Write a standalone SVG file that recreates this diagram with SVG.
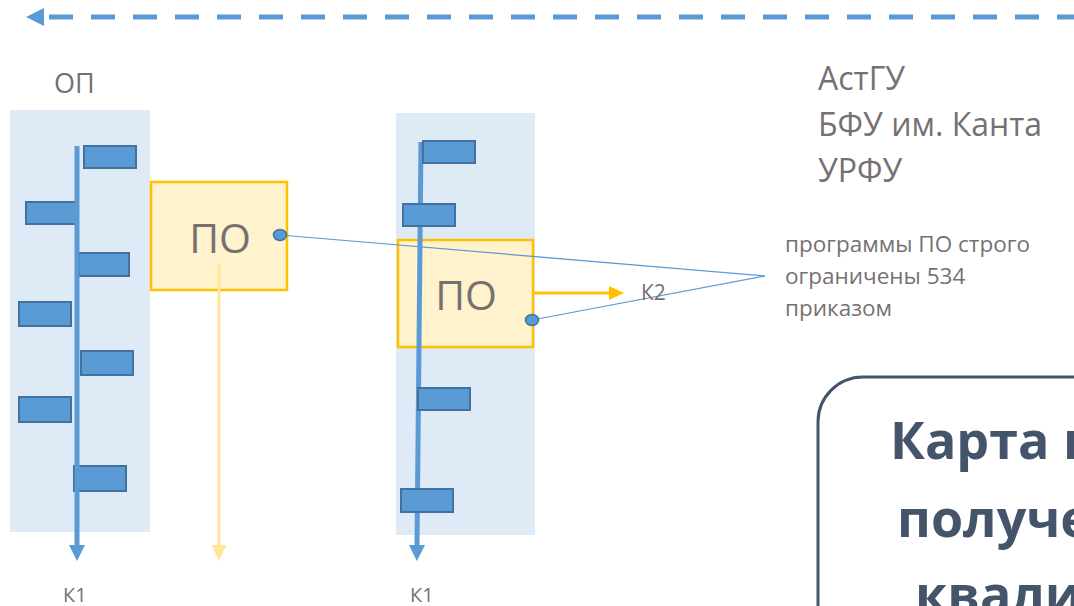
<svg xmlns="http://www.w3.org/2000/svg" width="1074" height="606" viewBox="0 0 1074 606">
<defs>
<style>
.panel{fill:#deeaf6}
.bar{fill:#5b9bd5;stroke:#41719c;stroke-width:2}
.po{fill:#fff2cc;stroke:#ffc000;stroke-width:2.5}
.vline{stroke:#5b9bd5;stroke-width:5;fill:none}
.lbl{font-family:"Open Sans","Noto Sans",sans-serif;fill:#767171}
.callout{stroke:#5b9bd5;stroke-width:1.2;fill:none}
.dot{fill:#5b9bd5;stroke:#41719c;stroke-width:1.5}
.big{font-family:"Open Sans","Noto Sans",sans-serif;font-weight:bold;font-size:52px;fill:#44546a}
</style>
<marker id="mBlue" markerUnits="userSpaceOnUse" markerWidth="16" markerHeight="16" refX="0" refY="8" orient="auto" viewBox="0 0 16 16"><path d="M0,0 L16,8 L0,16 z" fill="#5b9bd5"/></marker>
<marker id="mYelLight" markerUnits="userSpaceOnUse" markerWidth="16" markerHeight="16" refX="0" refY="8" orient="auto" viewBox="0 0 16 16"><path d="M0,0.5 L16,8 L0,15.5 z" fill="#ffe699"/></marker>
<marker id="mYel" markerUnits="userSpaceOnUse" markerWidth="15" markerHeight="14" refX="0" refY="7" orient="auto" viewBox="0 0 15 14"><path d="M0,0 L15,7 L0,14 z" fill="#ffc000"/></marker>
<marker id="mDash" markerUnits="userSpaceOnUse" markerWidth="18" markerHeight="18" refX="0" refY="9" orient="auto" viewBox="0 0 18 18"><path d="M0,0 L18,9 L0,18 z" fill="#5b9bd5"/></marker>
</defs>
<rect width="1074" height="606" fill="#ffffff"/>

<g id="top-arrow">
<line x1="1081" y1="17" x2="44" y2="17" stroke="#5b9bd5" stroke-width="5" stroke-dasharray="24 18" marker-end="url(#mDash)"/>
</g>

<g id="label-op"><text class="lbl" x="54" y="93" font-size="27">ОП</text></g>

<g id="panel-left">
<rect class="panel" x="10" y="110" width="140" height="422"/>
<rect class="bar" x="84" y="146" width="52" height="22"/>
<rect class="bar" x="26" y="202" width="51" height="22"/>
<rect class="bar" x="79" y="253" width="50" height="23"/>
<rect class="bar" x="19" y="302" width="52" height="24"/>
<rect class="bar" x="81" y="351" width="52" height="24"/>
<rect class="bar" x="19" y="397" width="52" height="25"/>
<rect class="bar" x="74" y="466" width="52" height="25"/>
</g>

<g id="panel-center">
<rect class="panel" x="396" y="113" width="139" height="422"/>
</g>

<g id="po-left">
<rect class="po" x="151" y="182" width="136" height="108"/>
<text class="lbl" x="220" y="253" font-size="41" text-anchor="middle">ПО</text>
</g>

<g id="po-center">
<rect class="po" x="398" y="240" width="135" height="107"/>
<text class="lbl" x="466" y="310" font-size="41" text-anchor="middle">ПО</text>
</g>

<g id="connectors">
<line class="vline" x1="77" y1="146" x2="77" y2="545" marker-end="url(#mBlue)"/>
<line x1="219" y1="264" x2="219" y2="545" stroke="#ffe699" stroke-width="3" marker-end="url(#mYelLight)"/>
<line class="vline" x1="421" y1="142" x2="417" y2="545" marker-end="url(#mBlue)"/>
<line x1="533" y1="293" x2="609" y2="293" stroke="#ffc000" stroke-width="3" marker-end="url(#mYel)"/>
<line class="callout" x1="280" y1="235" x2="765" y2="276"/>
<line class="callout" x1="532" y1="320" x2="765" y2="276"/>
</g>

<g id="center-bars">
<rect class="bar" x="423" y="141" width="52" height="22"/>
<rect class="bar" x="403" y="204" width="52" height="22"/>
<rect class="bar" x="418" y="388" width="52" height="22"/>
<rect class="bar" x="401" y="489" width="52" height="23"/>
</g>

<g id="dots">
<ellipse class="dot" cx="280" cy="235" rx="6.5" ry="5.5"/>
<ellipse class="dot" cx="532" cy="320" rx="6.5" ry="5.5"/>
</g>

<g id="labels">
<text class="lbl" x="63" y="602" font-size="20">К1</text>
<text class="lbl" x="410" y="602" font-size="20">К1</text>
<text class="lbl" x="641" y="300" font-size="21">К2</text>
</g>

<g id="universities">
<text class="lbl" font-size="32"><tspan x="818" y="90">АстГУ</tspan><tspan x="818" y="136">БФУ им. Канта</tspan><tspan x="818" y="182">УРФУ</tspan></text>
</g>

<g id="note">
<text class="lbl" font-size="22.5"><tspan x="785" y="252">программы ПО строго</tspan><tspan x="785" y="284">ограничены 534</tspan><tspan x="785" y="316">приказом</tspan></text>
</g>

<g id="map-box">
<rect x="818" y="377" width="300" height="280" rx="45" ry="45" fill="#ffffff" stroke="#44546a" stroke-width="3"/>
<text class="big" x="890" y="459">Карта в</text>
<text class="big" x="897" y="537">получе</text>
<text class="big" x="915" y="613">квали</text>
</g>
</svg>
